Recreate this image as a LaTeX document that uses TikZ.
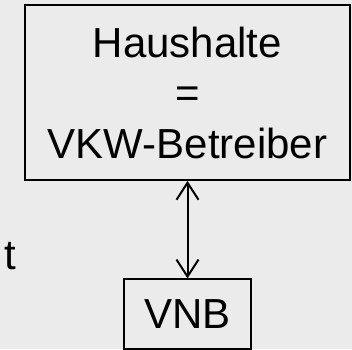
\documentclass[tikz,border=0pt]{standalone}
\usepackage{fontspec}
\setmainfont{Liberation Sans}
\usetikzlibrary{arrows.meta}
\definecolor{bg}{RGB}{235,235,235}
\tikzset{
  boxnode/.style={draw=black, line width=1.8pt, fill=bg, inner sep=0pt, align=center,
    font=\fontsize{42}{50.5}\selectfont},
  lbl/.style={inner sep=0pt, font=\fontsize{42}{50}\selectfont},
  link/.style={line width=2pt, {Straight Barb[length=17pt,width=22pt,line width=2pt]}-{Straight Barb[length=17pt,width=22pt,line width=2pt]}}
}
\begin{document}
\begin{tikzpicture}[x=1pt,y=1pt]
\useasboundingbox (0,0) rectangle (352,349);
\fill[bg] (0,0) rectangle (352,349);
\clip (0,0) rectangle (352,349);
\node[boxnode, minimum width=325pt, minimum height=175pt] (hh) at (187.5,256.5)
  {Haushalte\\=\\VKW-Betreiber};
\node[boxnode, minimum width=127pt, minimum height=69.4pt] (vnb) at (187.5,35) {VNB};
\node[lbl, anchor=base west] (t) at (4,79.5) {t};
\draw[link] (hh.south) -- (vnb.north);
\end{tikzpicture}
\end{document}
